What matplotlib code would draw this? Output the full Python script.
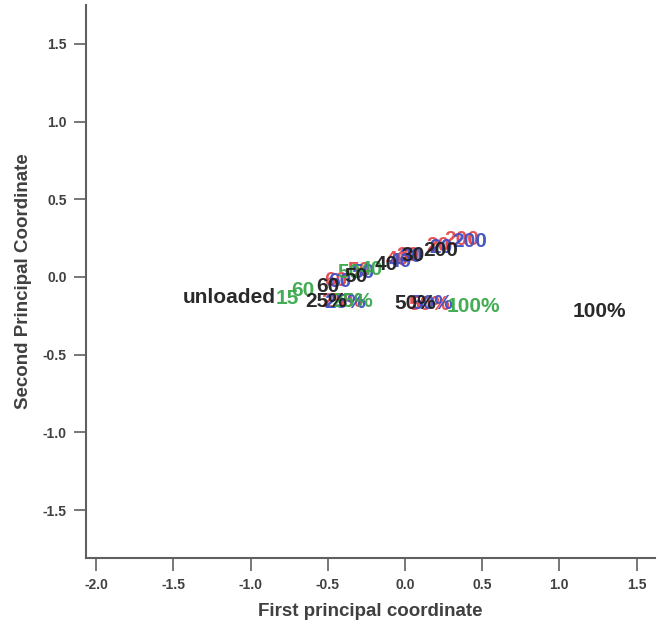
import numpy as np
import matplotlib.pyplot as plt

# labels and coordinates per group
black_labels = ["unloaded", "25%", "50%", "100%", "60", "50", "40", "30", "200"]
black_x = [-1.14, -0.51, 0.07, 1.26, -0.50, -0.32, -0.12, 0.05, 0.23]
black_y = [-0.135, -0.155, -0.17, -0.22, -0.06, 0.006, 0.077, 0.135, 0.17]

green_labels = ["15", "60", "50", "40", "25%", "100%"]
green_x = [-0.76, -0.66, -0.36, -0.22, -0.34, 0.44]
green_y = [-0.14, -0.085, 0.03, 0.045, -0.16, -0.19]

red_labels = ["60", "50", "40", "30", "20", "200", "25%", "50%"]
red_x = [-0.45, -0.30, -0.05, 0.02, 0.21, 0.37, -0.41, 0.16]
red_y = [-0.02, 0.04, 0.11, 0.14, 0.20, 0.24, -0.16, -0.175]

blue_labels = ["60", "50", "40", "30", "20", "200", "25%", "50%"]
blue_x = [-0.42, -0.27, -0.03, 0.04, 0.23, 0.42, -0.39, 0.18]
blue_y = [-0.03, 0.03, 0.10, 0.13, 0.19, 0.23, -0.165, -0.17]

groups = [
    (red_labels, red_x, red_y, "#e5484a"),
    (blue_labels, blue_x, blue_y, "#3f4fc4"),
    (green_labels, green_x, green_y, "#3aa84c"),
    (black_labels, black_x, black_y, "#1e1e1e"),
]

plt.rcParams['font.family'] = ['Liberation Sans', 'DejaVu Sans']

fig = plt.figure(figsize=(6.63, 6.23), dpi=100)
ax = fig.add_axes([0.130, 0.104, 0.858, 0.888])

for labels, xs, ys, col in groups:
    for lab, x, y in zip(labels, xs, ys):
        ax.text(x, y, lab, color=col, fontsize=15, fontweight='bold',
                ha='center', va='center', alpha=0.95)

ax.set_xlim(-2.065, 1.62)
ax.set_ylim(-1.81, 1.75)
ax.set_xticks(np.arange(-2.0, 1.51, 0.5))
ax.set_yticks(np.arange(-1.5, 1.51, 0.5))
ax.xaxis.set_major_formatter(plt.FormatStrFormatter('%.1f'))
ax.yaxis.set_major_formatter(plt.FormatStrFormatter('%.1f'))

for s in ['top', 'right']:
    ax.spines[s].set_visible(False)
for s in ['left', 'bottom']:
    ax.spines[s].set_color('#606060')
    ax.spines[s].set_linewidth(1.5)

ax.tick_params(axis='both', direction='out', length=9, width=1.2, color='#606060',
               labelsize=10, labelcolor='#404040', pad=5)
for t in ax.get_xticklabels() + ax.get_yticklabels():
    t.set_fontweight('bold')

ax.set_xlabel("First principal coordinate", fontsize=13.5, fontweight='bold', color='#404040', labelpad=8)
ax.set_ylabel("Second Principal Coordinate", fontsize=13.5, fontweight='bold', color='#404040', labelpad=8)

plt.savefig("out.png", dpi=100)
